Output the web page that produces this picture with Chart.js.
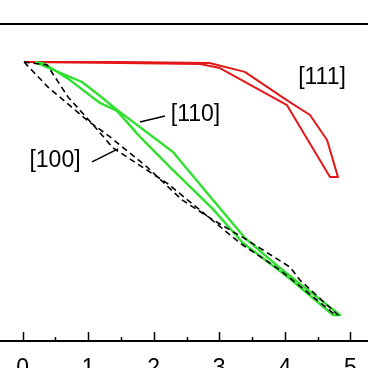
<!DOCTYPE html>
<html>
<head>
<meta charset="utf-8">
<script src="https://cdn.jsdelivr.net/npm/chart.js@4/dist/chart.umd.min.js"></script>
<style>
	html, body { margin: 0; padding: 0; background: #fff; overflow: hidden; }
	#wrap { width: 368px; height: 368px; position: relative; }
</style>
</head>
<body>
<div id="wrap"><canvas id="chart" width="368" height="368"></canvas></div>
<script>
// [111] loop (red)
const x111 = [0.02, 1.485, 2.85, 3.39, 4.03, 4.385, 4.645, 4.812, 4.69, 4.034, 3.01, 2.706, 1.485, 0.02];
const y111 = [0.880, 0.880, 0.877, 0.849, 0.760, 0.713, 0.634, 0.517, 0.517, 0.744, 0.861, 0.874, 0.877, 0.880];

// [110] loop (green)
const x110 = [0.188, 0.905, 1.18, 1.44, 2.294, 2.904, 3.393, 3.82, 4.232, 4.843,
	4.736, 4.08, 3.362, 2.904, 2.294, 1.79, 1.44, 1.18, 0.722, 0.34, 0.188];
const y110 = [0.880, 0.817, 0.773, 0.729, 0.596, 0.445, 0.325, 0.249, 0.180, 0.082,
	0.082, 0.196, 0.309, 0.416, 0.539, 0.644, 0.726, 0.751, 0.823, 0.874, 0.880];

// [100] loop (black dashed)
const x100 = [0.02, 0.386, 0.981, 1.332, 1.897, 2.431, 2.904, 3.423, 4.08, 4.232, 4.812,
	4.736, 3.927, 3.316, 2.706, 2.202, 1.378, 1.103, 0.691, 0.371, 0.02];
const y100 = [0.880, 0.801, 0.697, 0.644, 0.549, 0.445, 0.382, 0.319, 0.233, 0.192, 0.082,
	0.088, 0.224, 0.309, 0.413, 0.498, 0.609, 0.675, 0.770, 0.871, 0.880];

const majorTicks = [0, 1, 2, 3, 4, 5];
const minorTicks = [0.5, 1.5, 2.5, 3.5, 4.5];

// text labels and their leader lines, in data units
const labelTexts = ['[111]', '[110]', '[100]'];
const labelX = [4.568, 2.637, 0.493];
const labelY = [0.830, 0.713, 0.568];
const leaders = [
	null,
	[1.79, 0.691, 2.172, 0.710],
	[1.058, 0.565, 1.455, 0.606]
];

const FONT = '"Liberation Sans", Arial, sans-serif';

function toPoints(xs, ys) {
	return xs.map((x, i) => ({ x, y: ys[i] }));
}

const framePlugin = {
	id: 'frame',
	afterDatasetsDraw(chart) {
		const { ctx, chartArea, scales } = chart;
		const xs = scales.x;
		const ys = scales.y;
		ctx.save();
		ctx.strokeStyle = '#000';

		// top border
		ctx.lineWidth = 2;
		ctx.beginPath();
		ctx.moveTo(0, chartArea.top);
		ctx.lineTo(chart.width, chartArea.top);
		ctx.stroke();

		// inward tick marks
		ctx.lineWidth = 1.5;
		const b = chartArea.bottom;
		majorTicks.forEach(v => {
			const px = Math.round(xs.getPixelForValue(v)) + 0.5;
			ctx.beginPath();
			ctx.moveTo(px, b);
			ctx.lineTo(px, b - 9);
			ctx.stroke();
		});
		minorTicks.forEach(v => {
			const px = Math.round(xs.getPixelForValue(v)) + 0.5;
			ctx.beginPath();
			ctx.moveTo(px, b);
			ctx.lineTo(px, b - 4);
			ctx.stroke();
		});

		// leader lines
		ctx.lineWidth = 1.5;
		leaders.forEach(l => {
			if (!l) return;
			ctx.beginPath();
			ctx.moveTo(xs.getPixelForValue(l[0]), ys.getPixelForValue(l[1]));
			ctx.lineTo(xs.getPixelForValue(l[2]), ys.getPixelForValue(l[3]));
			ctx.stroke();
		});

		// labels
		ctx.fillStyle = '#000';
		ctx.font = '23px ' + FONT;
		ctx.textAlign = 'center';
		ctx.textBaseline = 'middle';
		labelTexts.forEach((t, i) => {
			ctx.fillText(t, xs.getPixelForValue(labelX[i]), ys.getPixelForValue(labelY[i]));
		});
		ctx.restore();
	}
};

const loopStyle = {
	showLine: true,
	pointRadius: 0,
	pointHoverRadius: 0,
	tension: 0,
	fill: false,
	borderJoinStyle: 'round'
};

new Chart(document.getElementById('chart'), {
	type: 'scatter',
	data: {
		datasets: [
			{ ...loopStyle, label: '[100]', data: toPoints(x100, y100), borderColor: '#000', borderWidth: 1.6, borderDash: [6, 4] },
			{ ...loopStyle, label: '[110]', data: toPoints(x110, y110), borderColor: '#2fe02f', borderWidth: 2.4 },
			{ ...loopStyle, label: '[111]', data: toPoints(x111, y111), borderColor: '#e3171a', borderWidth: 2 }
		]
	},
	options: {
		responsive: false,
		animation: false,
		events: [],
		layout: { padding: { top: 24, left: 0, right: 0, bottom: 0 } },
		plugins: {
			legend: { display: false },
			tooltip: { enabled: false }
		},
		scales: {
			x: {
				type: 'linear',
				position: 'bottom',
				min: -0.3465,
				max: 5.27,
				grid: { drawOnChartArea: false, drawTicks: false },
				border: { display: true, color: '#000', width: 2 },
				ticks: {
					stepSize: 1,
					includeBounds: false,
					autoSkip: false,
					maxRotation: 0,
					padding: 14,
					color: '#000',
					font: { family: FONT, size: 23 },
					callback: v => (Number.isInteger(v) && v >= 0 ? String(v) : '')
				},
				// the plot runs off both window edges; keep the label overhang from shrinking it
				afterFit: scale => {
					scale.height = 27;
					scale.paddingLeft = 0;
					scale.paddingRight = 0;
				}
			},
			y: {
				display: false,
				min: 0,
				max: 1
			}
		}
	},
	plugins: [framePlugin]
});
</script>
</body>
</html>
